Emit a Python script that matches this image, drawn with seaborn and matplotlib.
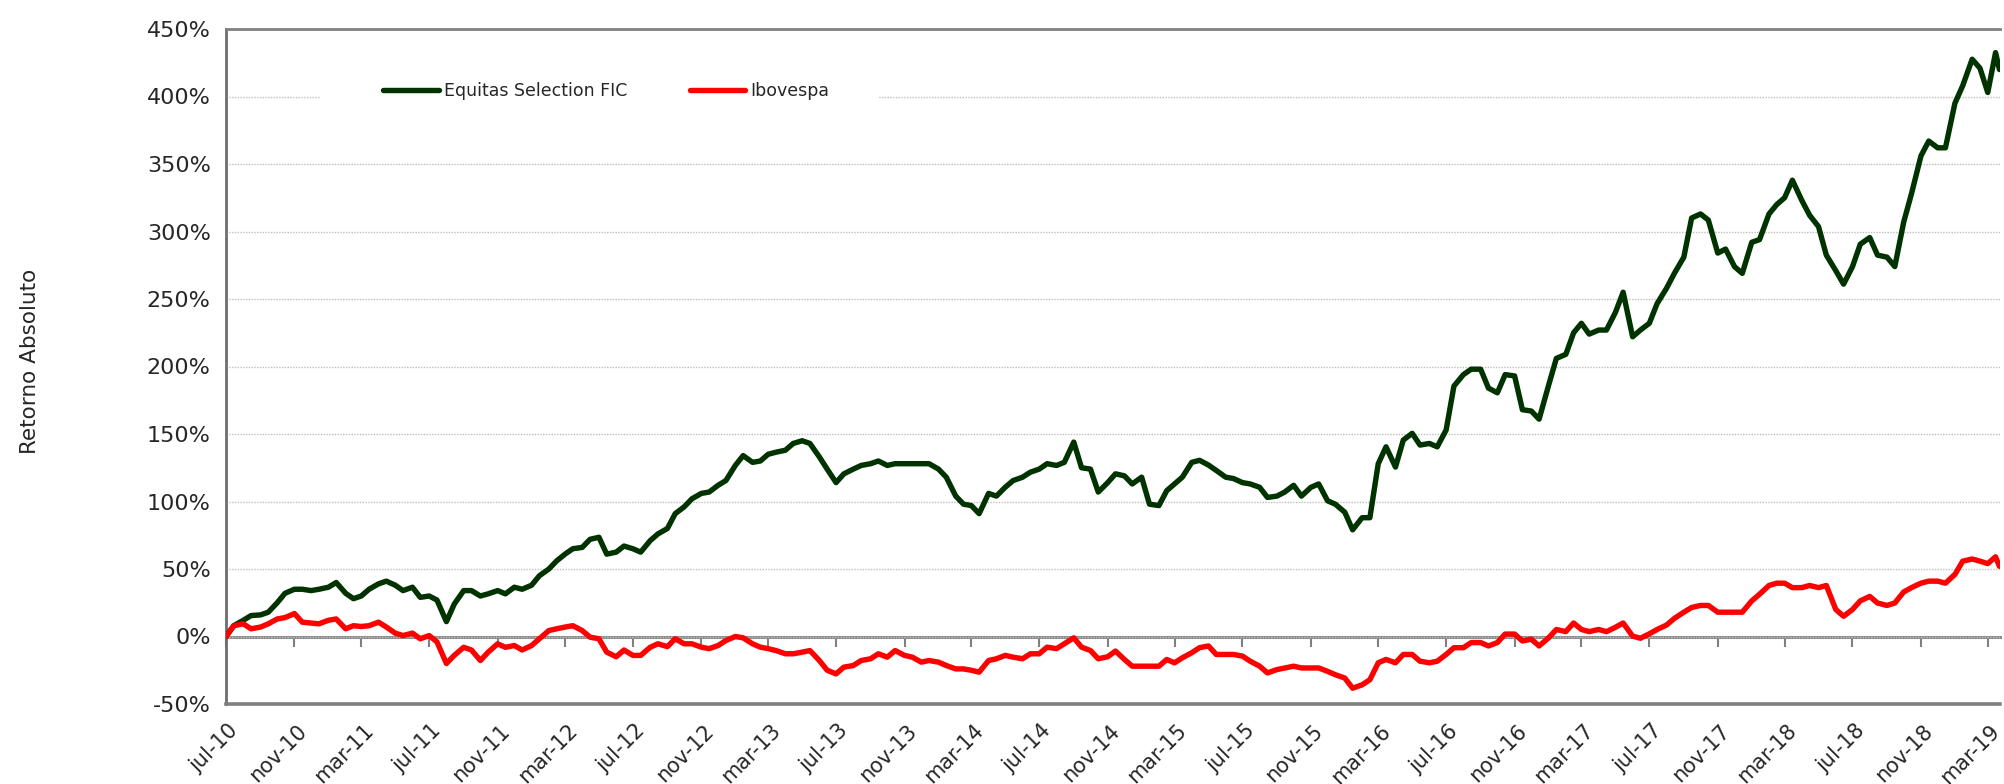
import pandas as pd
import seaborn as sns
import matplotlib.pyplot as plt
import matplotlib.dates as mdates
import matplotlib.transforms as mtransforms
from matplotlib.ticker import FuncFormatter
from matplotlib.patches import Rectangle

# datas quinzenais (dia 1 e 15 de cada mes) + ultimo dia da serie
datas = list(pd.date_range('2010-07-01', '2019-03-15', freq='SMS')) + [pd.Timestamp('2019-03-22')]

# retorno acumulado em %
equitas = [
    0, 8, 12, 15.5, 16, 18, 25, 32, 35, 35, 34, 35,
    36.5, 40, 32, 28, 30, 35, 39, 41, 38, 34, 36.5, 29,
    30, 27, 11, 24, 34, 34, 30, 31.6, 34, 31.6, 36.5, 35,
    38, 45, 50, 56, 61, 65, 66, 72, 73.5, 61, 62.5, 67,
    65, 62.5, 71, 76, 80, 91, 96, 102, 106, 107, 112, 115.5,
    126.7, 134, 129, 130, 135, 136.5, 138, 143, 145, 143, 133, 124,
    114, 120.5, 124, 126.7, 128, 130, 126.7, 128, 128, 128, 128, 128,
    124, 118, 104, 98, 97, 91, 106, 104, 110.6, 115.5, 118, 121.7,
    124, 128, 126.7, 129, 144, 125, 124, 107, 114, 120.5, 119, 113,
    118, 98, 97, 108, 113, 118, 129, 130.5, 127, 123, 118, 117,
    114, 113, 110.5, 103, 104, 107, 112, 104, 110.5, 113, 100.5, 98,
    92, 79, 88, 88, 128, 140.5, 125.5, 145.5, 150.5, 141.8, 143, 140.5,
    153, 185.5, 194, 198, 198, 184, 180.5, 194, 193, 168, 167, 161,
    186, 206, 209, 225, 232, 224, 227, 227, 240, 255, 222, 227,
    232, 246.6, 258, 269, 281, 310, 313, 308.5, 284, 287, 274, 269,
    292, 294, 313, 320, 325, 338, 323, 312, 303.6, 282.5, 271, 261,
    274, 290.6, 295.5, 282.5, 281, 274, 307, 328, 356, 367, 362, 362,
    395, 408, 427.6, 421, 403, 432.5, 420,
]

ibovespa = [
    0, 8, 9.4, 5.7, 7, 9.4, 13, 14, 17, 10.6, 10, 9.4,
    12, 13, 5.7, 8, 7.4, 8, 10.6, 7, 2.5, 0.7, 2.5, -1.7,
    0.7, -4, -20, -14, -8, -10, -17.8, -11.6, -5.4, -8, -6.7, -10,
    -6.7, -1.7, 4.4, 5.7, 7, 8, 4.4, -0.5, -1.7, -11.6, -15, -10,
    -14, -14, -8, -5.4, -7.5, -1.7, -5.4, -5.4, -7.9, -9, -6.7, -3,
    0, -1, -5.4, -7.9, -9, -10.4, -12.8, -12.8, -11.6, -10.4, -17.8, -25,
    -27.7, -22.7, -21.5, -17.8, -16.5, -12.8, -15.3, -10.4, -14, -15.3, -19, -17.8,
    -19, -21.5, -24, -24, -25, -26.4, -17.8, -16.5, -14, -15.3, -16.5, -12.8,
    -12.8, -7.9, -9, -5.4, -1, -7.9, -10.4, -16.5, -15, -10.8, -17, -22,
    -22, -22, -22, -17, -19.5, -15.8, -12, -8.3, -7, -13.3, -13.3, -13.3,
    -14.5, -18.3, -22, -27, -24.5, -23.3, -22, -23.3, -23.3, -23.3, -25.8, -28.3,
    -30.8, -38.3, -35.8, -32, -19.5, -17, -19.5, -13.3, -13.3, -18.3, -19.5, -18.3,
    -13.3, -8.3, -8.3, -4.5, -4.5, -7, -4.5, 1.8, 1.8, -3.3, -2, -7,
    -1, 5.2, 3.6, 10, 5.2, 3.6, 5.2, 3.6, 6.8, 10, 0.3, -1.3,
    2, 5.2, 8.5, 13.4, 18, 21.5, 23, 23, 18, 18, 18, 18,
    26.4, 31.3, 37.8, 39.5, 39.5, 36.2, 36.2, 37.8, 36.2, 37.8, 20, 15,
    20, 26.4, 29.7, 24.8, 23, 24.8, 33, 36.2, 39.5, 41, 41, 39.5,
    46, 55.8, 57.4, 55.8, 54, 59, 52,
]

series = ['Equitas Selection FIC', 'Ibovespa']
cores = ['#003300', '#ff0000']
y_ticks = list(range(-50, 451, 50))

df = pd.concat([
    pd.DataFrame({'data': datas, 'retorno': equitas, 'serie': series[0]}),
    pd.DataFrame({'data': datas, 'retorno': ibovespa, 'serie': series[1]}),
])

sns.set_style('white')
plt.rcParams['font.family'] = ['DejaVu Sans']

fig = plt.figure(figsize=(20.04, 7.84), dpi=100)
ax = fig.add_axes([226/2004, 80/784, 1774/2004, 675/784])

sns.lineplot(data=df, x='data', y='retorno', hue='serie', hue_order=series,
             palette=cores, linewidth=3.9, ax=ax, zorder=3,
             solid_joinstyle='round', solid_capstyle='round')

ax.set_xlim(pd.Timestamp('2010-07-01'), pd.Timestamp('2019-03-23'))
ax.set_ylim(-50, 450)
ax.set_yticks(y_ticks)
ax.yaxis.set_major_formatter(FuncFormatter(lambda v, p: '%d%%' % v))
ax.tick_params(axis='y', labelsize=16, length=7, width=1.5, color='#808080', pad=4)

# grade pontilhada
ax.set_axisbelow(True)
ax.grid(axis='y', color='#bdbdbd', linestyle=(0, (1, 1)), linewidth=1)
ax.grid(axis='x', visible=False)
ax.set_xlabel('')
ax.set_ylabel('')

# eixo de datas: rotulos em baixo, marcas na linha de 0%
ax.xaxis.set_major_locator(mdates.MonthLocator(bymonth=[3, 7, 11]))
ax.xaxis.set_major_formatter(FuncFormatter(lambda v, p: mdates.num2date(v).strftime('%b-%y').lower()))
ax.tick_params(axis='x', length=0, labelsize=15, pad=12)
for lbl in ax.get_xticklabels():
    lbl.set_rotation(45)
    lbl.set_ha('right')
    lbl.set_va('top')
    lbl.set_rotation_mode('anchor')
    lbl.set_transform(lbl.get_transform() + mtransforms.ScaledTranslation(2/100, 0, fig.dpi_scale_trans))

sec = ax.secondary_xaxis(0.1)
sec.xaxis.set_major_locator(mdates.MonthLocator(bymonth=[3, 7, 11]))
sec.tick_params(axis='x', length=7, width=1.5, color='#808080', labelbottom=False, labeltop=False)
for s in sec.spines.values():
    s.set_visible(False)
sec.spines['bottom'].set_visible(True)
sec.spines['bottom'].set_color('#8c8c8c')
sec.spines['bottom'].set_linewidth(2.2)

for side in ['left', 'top', 'bottom']:
    ax.spines[side].set_color('#808080')
ax.spines['left'].set_color('#6e6e6e')
ax.spines['left'].set_linewidth(2)
ax.spines['top'].set_linewidth(2)
ax.spines['bottom'].set_linewidth(2.6)
ax.spines['right'].set_visible(False)

# fundo branco da legenda cobrindo a grade
ax.add_patch(Rectangle(((320-226)/1774, 0.86), (879-320)/1774, 0.05, transform=ax.transAxes,
                       facecolor='white', edgecolor='none', zorder=1))

sns.move_legend(ax, 'center left', bbox_to_anchor=(383/2004, 1-91/784), bbox_transform=fig.transFigure,
                ncol=2, title=None, frameon=False, fontsize=12.5, handlelength=3.2,
                handletextpad=0.3, columnspacing=3.6, borderpad=0, borderaxespad=0)

fig.text(30/2004, 1-361/784, 'Retorno Absoluto', rotation=90, ha='center', va='center', fontsize=15.5)

fig.savefig('out.png', dpi=100, facecolor='white')
